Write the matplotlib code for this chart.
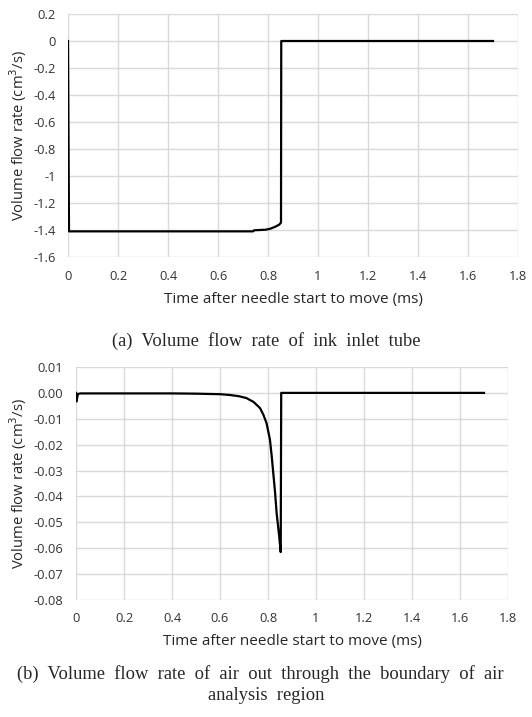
import matplotlib.pyplot as plt

# (a) ink inlet tube
t_a = [0, 0.004, 0.2, 0.4, 0.6, 0.74, 0.745, 0.79, 0.81, 0.83, 0.845, 0.852, 0.853, 1.0, 1.2, 1.4, 1.6, 1.7]
q_a = [0, -1.41, -1.41, -1.41, -1.41, -1.41, -1.402, -1.398, -1.39, -1.375, -1.36, -1.345, 0, 0, 0, 0, 0, 0]

# (b) air out through boundary
t_b = [0, 0.002, 0.008, 0.02, 0.2, 0.4, 0.5, 0.6, 0.64, 0.68, 0.71, 0.74, 0.767, 0.781, 0.794,
       0.808, 0.815, 0.822, 0.829, 0.836, 0.845, 0.853, 0.855, 1.0, 1.2, 1.4, 1.6, 1.7]
q_b = [0, -0.0033, -0.0004, -0.0002, -0.0002, -0.0002, -0.0003, -0.0005, -0.0008, -0.0013,
       -0.002, -0.0035, -0.0059, -0.0085, -0.0117, -0.018, -0.024, -0.031, -0.038, -0.0465,
       -0.054, -0.0615, 0, 0, 0, 0, 0, 0]

x_ticks = [0, 0.2, 0.4, 0.6, 0.8, 1, 1.2, 1.4, 1.6, 1.8]
x_labels = ['0', '0.2', '0.4', '0.6', '0.8', '1', '1.2', '1.4', '1.6', '1.8']
ya_ticks = [0.2, 0, -0.2, -0.4, -0.6, -0.8, -1, -1.2, -1.4, -1.6]
ya_labels = ['0.2', '0', '-0.2', '-0.4', '-0.6', '-0.8', '-1', '-1.2', '-1.4', '-1.6']
yb_ticks = [0.01, 0, -0.01, -0.02, -0.03, -0.04, -0.05, -0.06, -0.07, -0.08]
yb_labels = ['0.01', '0.00', '-0.01', '-0.02', '-0.03', '-0.04', '-0.05', '-0.06', '-0.07', '-0.08']

sans = 'Open Sans'
serif = 'Liberation Serif'

fig = plt.figure(figsize=(5.32, 7.17), dpi=100)
W, H = 532, 717


def make_axes(l, r, t, b):
    return fig.add_axes([l / W, (H - b) / H, (r - l) / W, (b - t) / H])


def style(ax, t, q, yt, yl, ylim, l, r, t_px, b_px):
    ax.plot(t, q, color='black', lw=1.6, zorder=3)
    ax.set_xlim(0, 1.8)
    ax.set_ylim(*ylim)
    ax.set_xticks(x_ticks)
    ax.set_xticklabels(x_labels)
    ax.set_yticks(yt)
    ax.set_yticklabels(yl)
    ax.grid(True, color='#d9d9d9', lw=1)
    for s in ax.spines.values():
        s.set_visible(False)
    ax.tick_params(length=0, labelsize=9.3, labelcolor='#333333', pad=9)
    for lab in ax.get_xticklabels() + ax.get_yticklabels():
        lab.set_family(sans)
    ax.set_xlabel('Time after needle start to move (ms)', fontsize=11, family=sans,
                  color='#262626', va='center')
    ax.set_ylabel('Volume flow rate (cm$^3$/s)', fontsize=10.6, family=sans,
                  color='#262626', va='center')
    # label positions in pixels below / left of the plot area
    ax.xaxis.set_label_coords(0.5, -42 / (b_px - t_px))
    ax.yaxis.set_label_coords(-(l - 18) / (r - l), 0.5)


ax1 = make_axes(68, 518, 14, 257)
style(ax1, t_a, q_a, ya_ticks, ya_labels, (-1.6, 0.2), 68, 518, 14, 257)

ax2 = make_axes(76, 508, 367, 600)
style(ax2, t_b, q_b, yb_ticks, yb_labels, (-0.08, 0.01), 76, 508, 367, 600)

fig.text(0.5, 1 - 341 / H, '(a)  Volume  flow  rate  of  ink  inlet  tube', ha='center', va='center',
         fontsize=13.3, family=serif, color='#262626')
fig.text(0.49, 1 - 674 / H, '(b)  Volume  flow  rate  of  air  out  through  the  boundary  of  air',
         ha='center', va='center', fontsize=13.3, family=serif, color='#262626')
fig.text(0.5, 1 - 695 / H, 'analysis  region', ha='center', va='center',
         fontsize=13.3, family=serif, color='#262626')

fig.savefig('out.png', dpi=100)
